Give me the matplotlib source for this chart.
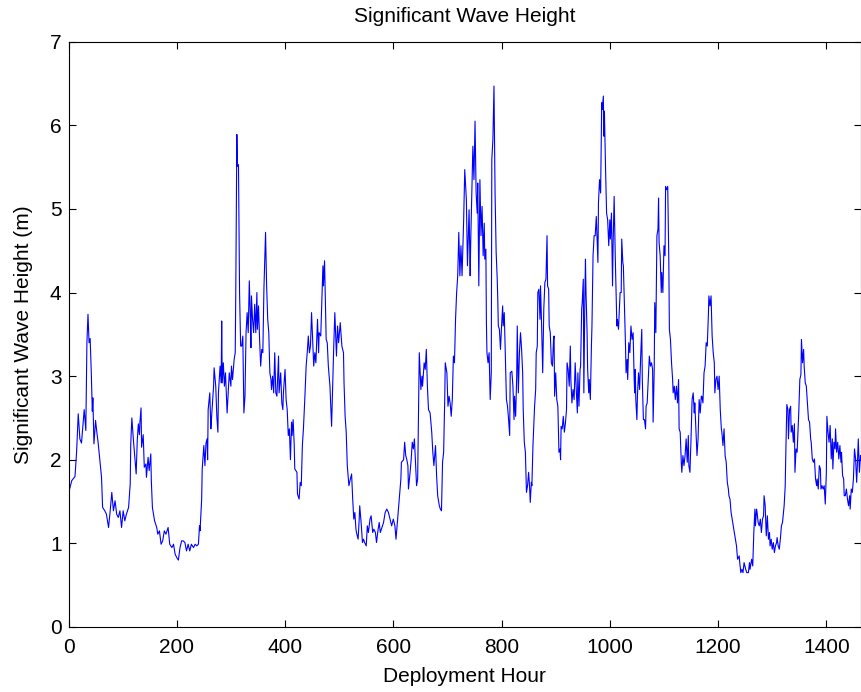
"""
Significant wave height over the deployment
"""

# %% Import dependencies
import matplotlib
matplotlib.use('Agg')
import matplotlib.pyplot as plt


# %% Data (deployment hour, wave height in m)
hours = [
    0, 6, 12, 15, 18, 21, 24, 29, 32, 34, 36, 38, 40, 42, 44, 45, 47, 50, 52, 55,
    58, 61, 63, 67, 70, 74, 77, 80, 83, 86, 89, 92, 95, 98, 101, 104, 107, 111, 114, 115,
    117, 120, 123, 125, 127, 129, 131, 132, 134, 135, 138, 140, 143, 144, 147, 149, 152, 153, 155, 159,
    163, 165, 168, 171, 174, 177, 180, 184, 187, 191, 194, 197, 200, 203, 206, 209, 212, 215, 218, 221,
    224, 227, 231, 234, 237, 240, 242, 243, 246, 247, 250, 252, 254, 256, 257, 258, 261, 263, 264, 268,
    269, 272, 274, 276, 277, 280, 282, 283, 284, 286, 288, 290, 293, 295, 297, 300, 301, 303, 306, 308,
    309, 310, 311, 312, 314, 316, 318, 320, 322, 324, 326, 328, 330, 332, 334, 336, 337, 338, 340, 342,
    344, 346, 348, 349, 351, 353, 355, 357, 359, 361, 364, 366, 368, 370, 372, 374, 375, 377, 379, 381,
    383, 385, 388, 389, 392, 394, 396, 397, 400, 402, 404, 406, 408, 410, 412, 413, 415, 417, 418, 422,
    423, 426, 428, 430, 432, 434, 437, 439, 441, 443, 445, 447, 449, 451, 453, 455, 457, 460, 462, 463,
    466, 468, 470, 471, 473, 474, 476, 478, 480, 483, 486, 487, 490, 492, 495, 497, 499, 502, 505, 508,
    509, 511, 513, 515, 518, 520, 523, 525, 527, 529, 531, 532, 535, 537, 538, 541, 543, 545, 547, 550,
    552, 554, 557, 559, 562, 564, 567, 569, 572, 574, 576, 578, 582, 585, 588, 591, 594, 597, 600, 603,
    605, 608, 611, 614, 615, 619, 621, 623, 625, 627, 628, 631, 633, 635, 637, 639, 641, 643, 645, 647,
    648, 651, 653, 654, 657, 659, 661, 663, 665, 668, 671, 673, 675, 678, 680, 682, 685, 687, 689, 691,
    693, 695, 696, 699, 701, 703, 705, 707, 709, 711, 713, 715, 717, 719, 721, 723, 725, 727, 730, 732,
    735, 737, 740, 742, 743, 745, 747, 749, 751, 753, 755, 756, 758, 760, 762, 764, 766, 768, 769, 771,
    772, 773, 775, 777, 779, 781, 782, 784, 786, 787, 788, 790, 792, 793, 794, 796, 798, 800, 802, 803,
    805, 807, 809, 811, 813, 815, 816, 819, 821, 823, 824, 826, 828, 829, 831, 833, 835, 837, 839, 840,
    842, 844, 846, 848, 850, 852, 853, 855, 856, 858, 861, 863, 864, 866, 867, 869, 871, 872, 874, 876,
    878, 880, 882, 884, 885, 887, 888, 890, 892, 894, 896, 897, 898, 900, 902, 904, 906, 908, 909, 910,
    912, 914, 916, 918, 920, 921, 923, 925, 927, 928, 930, 932, 934, 936, 938, 940, 941, 943, 945, 946,
    948, 949, 951, 952, 954, 955, 956, 958, 959, 961, 962, 964, 966, 967, 969, 971, 973, 975, 977, 978,
    979, 981, 983, 985, 986, 988, 989, 990, 992, 994, 996, 998, 1000, 1001, 1003, 1005, 1006, 1008, 1010, 1011,
    1013, 1014, 1016, 1019, 1021, 1022, 1024, 1025, 1027, 1029, 1030, 1032, 1033, 1035, 1037, 1039, 1041, 1043, 1045, 1046,
    1047, 1048, 1050, 1051, 1053, 1055, 1057, 1059, 1060, 1062, 1064, 1066, 1067, 1069, 1071, 1073, 1075, 1077, 1079, 1080,
    1082, 1083, 1085, 1087, 1089, 1090, 1091, 1093, 1095, 1096, 1098, 1100, 1102, 1103, 1105, 1107, 1109, 1110, 1112, 1114,
    1116, 1117, 1119, 1121, 1123, 1125, 1127, 1128, 1130, 1132, 1133, 1135, 1137, 1139, 1141, 1143, 1145, 1146, 1148, 1150,
    1152, 1154, 1156, 1157, 1159, 1161, 1163, 1165, 1167, 1169, 1170, 1172, 1174, 1176, 1178, 1180, 1182, 1183, 1185, 1187,
    1189, 1191, 1193, 1194, 1196, 1198, 1200, 1202, 1204, 1206, 1207, 1209, 1211, 1213, 1215, 1217, 1219, 1220, 1222, 1224,
    1226, 1231, 1234, 1236, 1239, 1240, 1242, 1244, 1246, 1248, 1251, 1253, 1256, 1258, 1259, 1262, 1264, 1266, 1268, 1269,
    1271, 1272, 1274, 1276, 1278, 1280, 1282, 1284, 1285, 1287, 1289, 1291, 1293, 1295, 1296, 1298, 1300, 1302, 1304, 1306,
    1308, 1309, 1311, 1313, 1315, 1317, 1319, 1322, 1324, 1325, 1327, 1329, 1330, 1332, 1334, 1335, 1337, 1339, 1341, 1342,
    1344, 1346, 1347, 1349, 1351, 1353, 1354, 1356, 1358, 1359, 1361, 1363, 1365, 1367, 1369, 1371, 1372, 1374, 1376, 1378,
    1380, 1382, 1383, 1385, 1387, 1389, 1390, 1392, 1394, 1396, 1398, 1400, 1401, 1403, 1405, 1407, 1409, 1411, 1412, 1414,
    1416, 1417, 1419, 1421, 1423, 1425, 1427, 1428, 1430, 1432, 1433, 1435, 1437, 1439, 1441, 1443, 1444, 1446, 1448, 1450,
    1452, 1454, 1456, 1457, 1459, 1461, 1463, 1464,
]

wave_height = [
    1.60, 1.75, 1.80, 2.10, 2.55, 2.25, 2.20, 2.60, 2.35, 3.40, 3.74, 3.40, 3.45, 3.06, 2.58, 2.74, 2.19, 2.47, 2.35, 2.19,
    1.99, 1.79, 1.43, 1.39, 1.35, 1.19, 1.39, 1.61, 1.39, 1.51, 1.35, 1.31, 1.39, 1.19, 1.39, 1.27, 1.35, 1.43, 1.71, 2.19,
    2.50, 2.23, 1.99, 1.83, 2.23, 2.43, 2.30, 2.45, 2.62, 2.15, 2.30, 1.91, 1.95, 1.79, 2.03, 1.87, 2.07, 1.75, 1.43, 1.27,
    1.19, 1.11, 1.15, 0.99, 1.03, 1.15, 1.11, 1.19, 0.99, 0.95, 0.99, 0.87, 0.83, 0.80, 0.95, 1.03, 1.03, 1.01, 0.91, 0.99,
    0.91, 0.99, 0.95, 0.99, 0.97, 0.99, 1.21, 1.15, 1.53, 1.89, 2.17, 1.93, 2.20, 2.25, 2.00, 2.60, 2.80, 2.37, 2.48, 2.88,
    3.10, 2.88, 2.52, 2.33, 2.80, 3.12, 2.92, 3.66, 2.92, 3.16, 2.88, 3.04, 2.56, 2.80, 3.04, 2.88, 3.12, 2.96, 3.20, 3.28,
    4.00, 5.03, 5.89, 5.51, 5.53, 4.00, 3.36, 3.36, 3.48, 2.56, 2.76, 3.52, 3.76, 3.52, 4.14, 3.68, 3.34, 3.96, 3.68, 3.52,
    3.86, 3.52, 4.00, 3.56, 3.84, 3.44, 3.12, 3.32, 3.28, 4.04, 4.72, 4.08, 3.68, 3.52, 3.04, 2.96, 2.84, 3.00, 2.80, 3.28,
    2.80, 2.76, 3.24, 2.80, 3.04, 2.68, 2.60, 2.80, 3.08, 2.72, 2.60, 2.29, 2.37, 2.00, 2.45, 2.29, 2.48, 2.17, 1.89, 1.85,
    1.59, 1.53, 1.73, 1.69, 2.17, 2.37, 2.80, 3.12, 3.28, 3.48, 3.28, 3.36, 3.76, 3.44, 3.12, 3.28, 3.16, 3.68, 3.28, 3.52,
    3.48, 3.92, 4.32, 4.08, 4.38, 4.08, 3.44, 3.40, 3.12, 2.88, 2.40, 2.64, 3.36, 3.76, 3.24, 3.60, 3.40, 3.64, 3.36, 3.28,
    2.92, 2.52, 2.33, 1.93, 1.69, 1.75, 1.83, 1.53, 1.29, 1.37, 1.17, 1.13, 1.05, 1.29, 1.45, 1.21, 1.01, 1.05, 1.01, 0.97,
    1.21, 1.13, 1.29, 1.33, 1.13, 1.17, 1.13, 1.01, 1.17, 1.25, 1.13, 1.17, 1.25, 1.37, 1.41, 1.37, 1.29, 1.21, 1.29, 1.21,
    1.05, 1.29, 1.53, 1.77, 1.97, 2.00, 2.21, 2.05, 2.00, 1.93, 1.65, 1.85, 2.00, 2.21, 2.13, 2.25, 1.97, 1.69, 1.77, 2.72,
    3.28, 2.84, 3.00, 2.88, 3.16, 3.08, 3.32, 2.88, 2.60, 2.56, 2.33, 2.09, 1.93, 2.17, 1.81, 1.57, 1.45, 1.41, 1.39, 1.97,
    2.09, 2.72, 3.16, 3.04, 2.64, 2.76, 2.68, 2.52, 2.72, 3.24, 3.16, 3.68, 4.00, 4.20, 4.72, 4.20, 4.56, 4.20, 4.87, 5.47,
    5.11, 4.32, 4.99, 4.20, 4.60, 5.15, 5.75, 5.35, 6.05, 5.19, 4.95, 5.31, 4.08, 5.35, 4.68, 5.03, 4.44, 4.83, 4.40, 4.52,
    3.64, 3.28, 3.16, 3.28, 2.72, 3.04, 5.59, 5.83, 6.47, 5.79, 5.19, 4.48, 4.16, 3.92, 3.60, 3.56, 3.32, 3.60, 3.84, 3.60,
    3.76, 3.24, 2.72, 2.64, 2.48, 2.29, 3.04, 3.06, 2.88, 2.48, 2.76, 2.52, 3.00, 3.60, 2.80, 3.28, 3.52, 3.32, 3.04, 2.60,
    2.21, 2.09, 1.61, 1.69, 1.85, 1.65, 1.49, 1.73, 1.69, 2.17, 2.64, 2.84, 3.28, 3.36, 4.00, 4.04, 3.68, 4.08, 3.60, 3.04,
    3.80, 4.12, 4.16, 4.68, 4.08, 4.04, 3.60, 3.52, 3.16, 3.12, 3.44, 3.48, 2.76, 3.04, 2.72, 2.64, 2.09, 2.13, 2.00, 2.40,
    2.37, 2.52, 2.33, 2.44, 2.60, 3.16, 3.08, 2.88, 3.36, 2.96, 2.68, 2.84, 2.72, 3.16, 2.84, 2.56, 3.04, 2.64, 3.08, 3.12,
    3.80, 3.88, 4.16, 2.80, 4.00, 4.40, 4.00, 3.52, 3.08, 2.80, 2.96, 2.72, 3.36, 3.60, 4.44, 4.68, 4.68, 4.91, 4.56, 4.36,
    5.07, 5.35, 5.19, 6.27, 6.19, 6.35, 5.87, 6.17, 5.51, 4.95, 4.87, 4.56, 4.87, 4.64, 4.95, 4.08, 4.56, 5.15, 4.44, 4.16,
    3.60, 3.68, 3.56, 4.00, 4.00, 4.64, 4.36, 4.32, 3.84, 3.36, 3.04, 3.20, 2.96, 3.40, 3.28, 3.60, 3.44, 3.52, 2.96, 2.80,
    3.08, 2.72, 2.48, 2.76, 3.04, 2.84, 3.24, 3.56, 2.96, 2.48, 2.48, 2.37, 2.64, 2.68, 2.96, 3.24, 3.12, 3.16, 3.08, 2.45,
    3.08, 3.88, 3.52, 4.68, 4.76, 5.13, 4.60, 4.44, 4.00, 4.24, 4.00, 4.56, 4.44, 5.27, 5.23, 5.27, 4.36, 3.56, 3.44, 3.16,
    2.96, 2.80, 2.88, 2.72, 2.88, 2.68, 2.96, 2.37, 2.33, 1.97, 1.85, 2.05, 1.93, 2.05, 2.25, 1.97, 2.29, 1.93, 1.85, 2.25,
    2.72, 2.80, 2.56, 2.68, 2.37, 2.05, 2.25, 2.72, 2.56, 2.76, 2.76, 2.68, 3.04, 3.12, 3.40, 3.36, 3.72, 3.96, 3.84, 3.96,
    3.48, 3.28, 3.16, 2.80, 2.96, 3.00, 2.84, 3.00, 2.60, 2.37, 2.33, 2.17, 2.37, 2.05, 1.97, 1.73, 1.65, 1.57, 1.53, 1.37,
    1.29, 1.09, 0.97, 0.81, 0.85, 0.77, 0.65, 0.69, 0.65, 0.77, 0.69, 0.65, 0.65, 0.77, 0.69, 0.81, 0.73, 1.13, 1.41, 1.21,
    1.41, 1.37, 1.25, 1.21, 1.29, 1.13, 1.29, 1.33, 1.57, 1.45, 1.09, 1.33, 1.05, 1.13, 0.97, 1.05, 0.93, 1.01, 0.89, 0.97,
    1.01, 1.07, 0.97, 0.93, 1.05, 1.21, 1.25, 1.45, 1.69, 2.05, 2.66, 2.60, 2.25, 2.60, 2.64, 2.33, 2.41, 2.21, 2.43, 1.85,
    2.13, 2.09, 2.25, 2.56, 2.96, 3.02, 3.44, 3.16, 3.32, 3.12, 2.92, 2.88, 2.68, 2.48, 2.45, 2.25, 2.21, 2.01, 1.97, 2.01,
    1.77, 1.69, 1.77, 1.65, 1.93, 1.89, 1.65, 1.69, 1.65, 1.69, 1.47, 1.85, 2.52, 2.33, 2.21, 2.41, 2.01, 2.25, 1.89, 2.21,
    2.13, 2.37, 2.09, 2.21, 2.01, 2.17, 1.97, 2.09, 1.81, 1.77, 1.57, 1.57, 1.65, 1.53, 1.45, 1.57, 1.41, 1.65, 1.61, 1.77,
    2.13, 2.01, 1.73, 1.89, 2.25, 1.85, 2.05, 2.00,
]

x_ticks = [0, 200, 400, 600, 800, 1000, 1200, 1400]
y_ticks = [0, 1, 2, 3, 4, 5, 6, 7]


# %% Plot
plt.rcParams['font.family'] = ['Liberation Sans', 'DejaVu Sans']

fig = plt.figure(figsize=(8.61, 6.92), dpi=100)
ax = fig.add_axes([68.5 / 861, 65 / 692, (861 - 68.5) / 861, (627 - 41.7) / 692])

ax.plot(hours, wave_height, color='#0000ff', linewidth=0.8)

ax.set_xlim(0, 1464)
ax.set_ylim(0, 7)
ax.set_xticks(x_ticks)
ax.set_yticks(y_ticks)
ax.tick_params(direction='in', top=True, right=True, length=5, width=0.8,
               labelsize=15, colors='black')
ax.tick_params(axis='x', pad=8)
ax.tick_params(axis='y', pad=5)
for spine in ax.spines.values():
    spine.set_linewidth(0.8)

ax.set_title('Significant Wave Height', fontsize=15, pad=14)
ax.set_xlabel('Deployment Hour', fontsize=15, labelpad=7)
ax.set_ylabel('Significant Wave Height (m)', fontsize=15, labelpad=12)

fig.savefig('out.png', dpi=100)
